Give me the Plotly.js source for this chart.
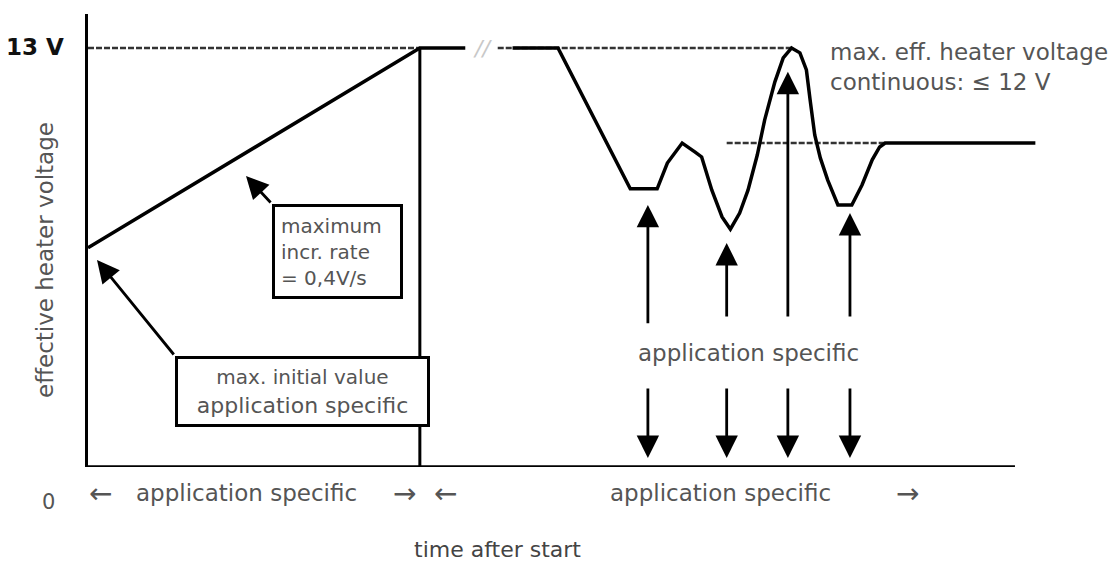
<!DOCTYPE html>
<html>
<head>
<meta charset="utf-8">
<script src="https://cdn.plot.ly/plotly-3.0.1.min.js"></script>
<style>html,body{margin:0;padding:0;background:#fff;}#chart{width:1118px;height:562px;}</style>
</head>
<body>
<div id="chart"></div>
<script>
// ---- data (time in arbitrary units, voltage in V) ----
const rampT = [0, 35.8, 40.7];
const rampV = [6.8, 13, 13];
const boundaryT = [35.8, 35.8];
const boundaryV = [0, 13];
const limitLeftT = [0, 35.8];
const limitLeftV = [13, 13];
const limitRightT = [44.2, 75.9];
const limitRightV = [13, 13];
const contDashT = [68.9, 86.0];
const contDashV = [10.05, 10.05];
const curveT = [45.8, 50.7, 58.5, 61.4, 62.5, 64.1, 65.5, 66.2, 67.3, 68.4, 69.3, 70.3, 71.2, 72.2, 73.0, 74.1, 75.0, 75.9, 76.8, 77.5, 77.9, 78.4, 79.0, 79.8, 80.9, 82.4, 83.5, 84.6, 85.4, 86.0, 102.2];
const curveV = [13, 13, 8.63, 8.63, 9.43, 10.05, 9.77, 9.62, 8.59, 7.76, 7.38, 7.88, 8.59, 9.68, 10.77, 11.95, 12.69, 13.0, 12.85, 12.32, 11.39, 10.30, 9.59, 8.90, 8.13, 8.13, 8.75, 9.53, 9.93, 10.05, 10.05];
const eventT = [60.4, 68.9, 75.5, 82.2];
const eventTipV = [8.13, 6.95, 12.26, 7.88];
const eventTailV = [4.41, 4.62, 4.62, 4.62];
const downFromV = 2.48;
const downToV = 0.28;
const axisEndT = 100;
const yTop = 14.055;
const xTop = 103.24;

// ---- helpers for layout positions (pixel -> data / paper) ----
const X = p => (p - 88) / 9.27;
const Y = p => (467 - p) / 32.23;
const PX = p => (p - 88) / 957;
const PY = p => (467 - p) / 453;
const FONT = 'DejaVu Sans, Verdana, sans-serif';
const GRAY = '#555';

const solid = {color: '#000', width: 3.5};
const dashed = {color: '#333', width: 2.5, dash: '6px,2px'};
const traces = [
  {x: limitLeftT, y: limitLeftV, mode: 'lines', line: dashed},
  {x: limitRightT, y: limitRightV, mode: 'lines', line: dashed},
  {x: contDashT, y: contDashV, mode: 'lines', line: dashed},
  {x: rampT, y: rampV, mode: 'lines', line: solid},
  {x: boundaryT, y: boundaryV, mode: 'lines', line: {color: '#000', width: 3}},
  {x: curveT, y: curveV, mode: 'lines', line: solid}
];

const ann = [];
function txt(text, px, py, size, opts) {
  ann.push(Object.assign({text: text, x: PX(px), y: PY(py), xref: 'paper', yref: 'paper', showarrow: false,
    font: {family: FONT, size: size, color: GRAY}, xanchor: 'center', yanchor: 'middle'}, opts || {}));
}
function arrow(tx, ty, ax, ay) {
  ann.push({x: tx, y: ty, ax: ax, ay: ay, xref: 'x', yref: 'y', axref: 'x', ayref: 'y', text: '',
    showarrow: true, arrowhead: 2, arrowsize: 1.6, arrowwidth: 2.8, arrowcolor: '#000', standoff: 0, startstandoff: 0});
}
// event arrows (up to curve, down to axis)
eventT.forEach((t, i) => {
  arrow(t, eventTipV[i], t, eventTailV[i]);
  arrow(t, downToV, t, downFromV);
});
// box arrows
arrow(X(246), Y(176), X(272), Y(204));
arrow(X(97), Y(260), X(175), Y(356));

// text labels
txt('<b>13 V</b>', 66, 47, 23, {xanchor: 'right', font: {family: FONT, size: 23, color: '#111'}});
txt('0', 48, 502, 21);
txt('effective heater voltage', 45, 260, 23, {textangle: -90});
txt('time after start', 497, 549, 22, {font: {family: FONT, size: 22, color: '#444'}});
txt('←', 100, 493, 28);
txt('application specific', 246, 493, 23);
txt('→', 404, 493, 28);
txt('←', 445, 493, 28);
txt('application specific', 720, 493, 23);
txt('→', 907, 493, 28);
txt('application specific', 748, 353, 23);
txt('max. eff. heater voltage<br>continuous: ≤ 12 V', 828, 67, 23, {xanchor: 'left', align: 'left'});
txt('<i>//</i>', 482, 48, 22, {font: {family: FONT, size: 22, color: '#c8c8c8'}});
// boxes
txt('maximum<br>incr. rate<br>= 0,4V/s', 337.5, 251.5, 20,
  {align: 'left', bordercolor: '#000', borderwidth: 3, borderpad: 6, bgcolor: '#fff', width: 113, height: 77});
txt('<span style="font-size:20px">max. initial value</span><br>application specific', 302.5, 391.5, 22,
  {align: 'center', bordercolor: '#000', borderwidth: 3, borderpad: 4, bgcolor: '#fff', width: 241, height: 57});

const layout = {
  width: 1118, height: 562,
  margin: {l: 88, r: 73, t: 14, b: 95, pad: 0},
  paper_bgcolor: '#fff', plot_bgcolor: '#fff',
  showlegend: false, hovermode: false,
  xaxis: {range: [0, xTop], showline: false, showgrid: false, zeroline: false, showticklabels: false, ticks: ''},
  yaxis: {range: [0, yTop], showline: true, linewidth: 3.5, linecolor: '#000', showgrid: false, zeroline: false,
    showticklabels: false, ticks: ''},
  shapes: [{type: 'line', xref: 'x', yref: 'y', x0: 0, x1: axisEndT, y0: 0, y1: 0, line: {color: '#000', width: 3.5}}],
  annotations: ann
};
Plotly.newPlot('chart', traces, layout, {displayModeBar: false, staticPlot: true});
</script>
</body>
</html>
